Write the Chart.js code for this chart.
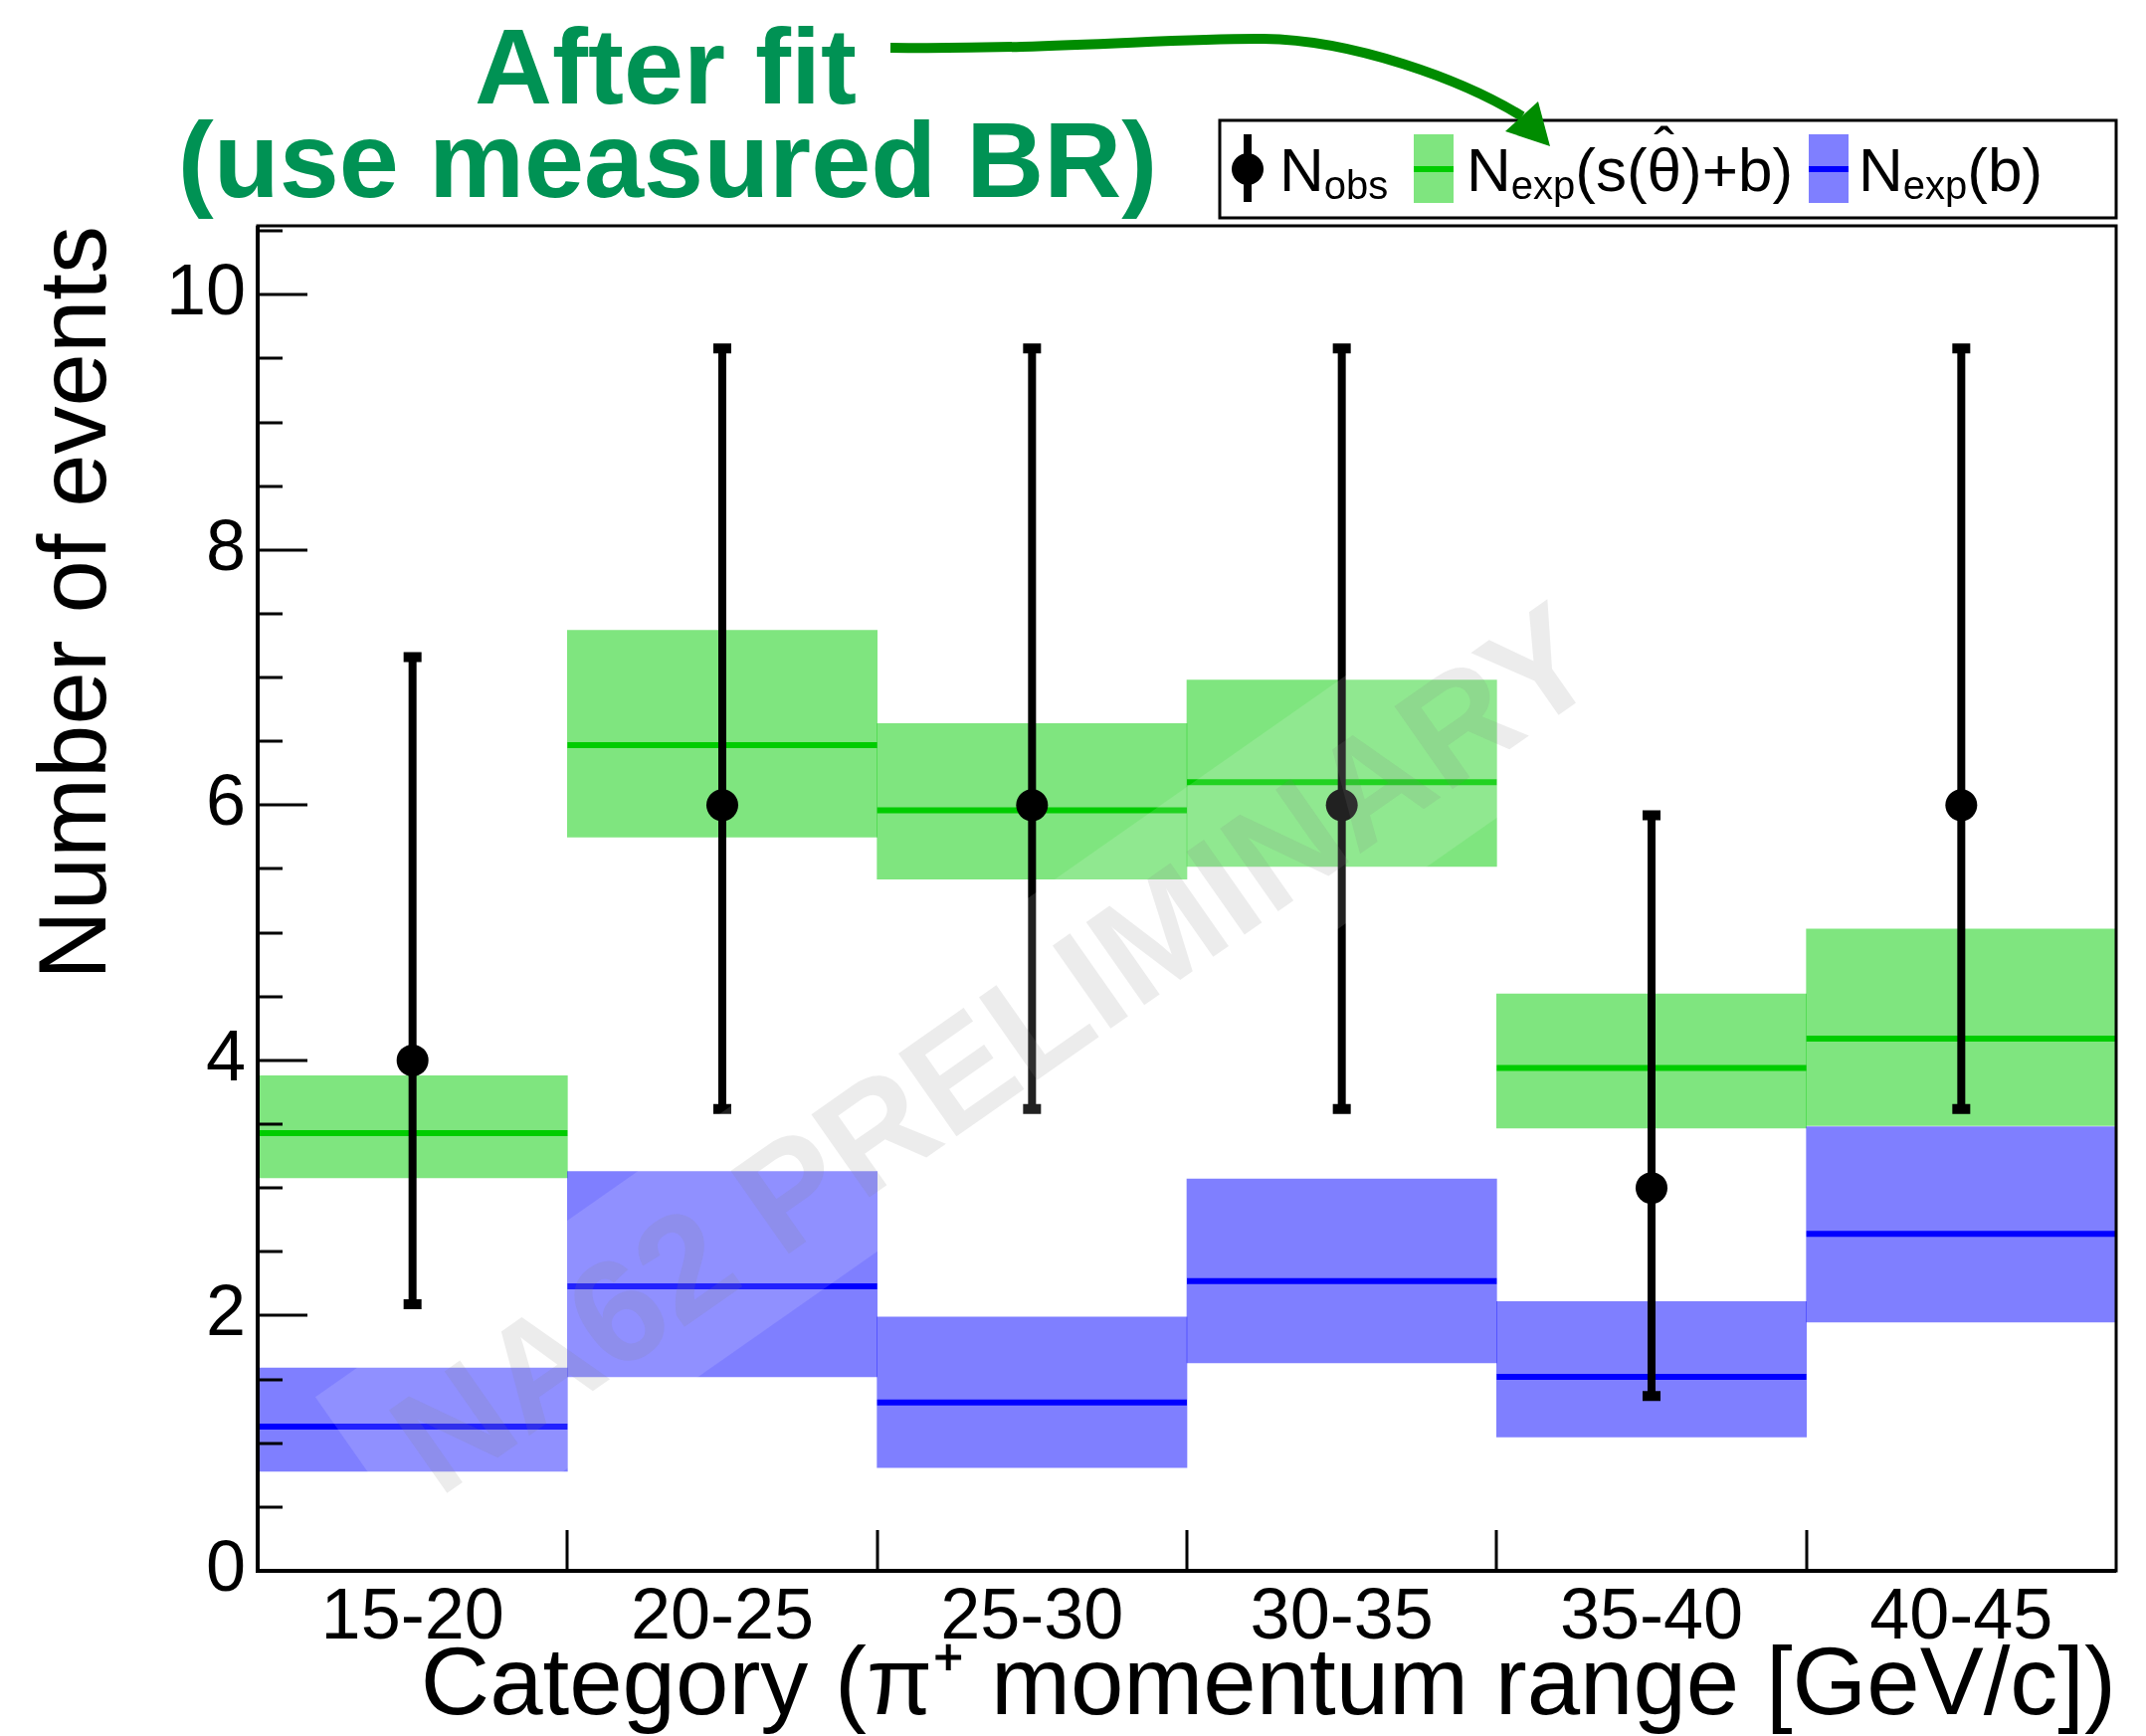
<!DOCTYPE html>
<html>
<head>
<meta charset="utf-8">
<script src="https://cdn.jsdelivr.net/npm/chart.js@4.4.0/dist/chart.umd.min.js"></script>
<style>
body { margin:0; background:#fff; }
#wrap { position:relative; width:2157px; height:1745px; font-family:"Liberation Sans", Arial, sans-serif; }
#chart { position:absolute; left:0; top:0; z-index:0; }
#legbox { position:absolute; left:0; top:0; z-index:1; }
#arrow { position:absolute; left:0; top:0; z-index:3; pointer-events:none; }
.note { position:absolute; color:#009254; font-weight:bold; font-size:108px; line-height:1; white-space:nowrap; transform:translateX(-50%); z-index:2; }
.leg { position:absolute; font-size:62px; line-height:1; white-space:nowrap; color:#000; z-index:2; }
.leg sub { font-size:40px; line-height:1; vertical-align:-8px; }
.hat { position:relative; }
.hat::before { content:'\02C6'; position:absolute; left:50%; transform:translateX(-50%); top:-0.28em; }
</style>
</head>
<body>
<div id="wrap">
  <canvas id="chart" width="2157" height="1745"></canvas>
  <svg id="legbox" width="2157" height="1745">
    <rect x="1226" y="121" width="901" height="98" fill="#fff" stroke="#000" stroke-width="3"/>
    <line x1="1254" y1="135" x2="1254" y2="203" stroke="#000" stroke-width="8"/>
    <circle cx="1254" cy="170" r="16" fill="#000"/>
    <rect x="1421" y="135" width="40" height="69" fill="rgba(0,204,0,0.5)"/>
    <line x1="1421" y1="170" x2="1461" y2="170" stroke="#00cc00" stroke-width="6"/>
    <rect x="1818" y="135" width="40" height="69" fill="rgba(0,0,255,0.5)"/>
    <line x1="1818" y1="170" x2="1858" y2="170" stroke="#0000ff" stroke-width="6"/>
  </svg>
  <div class="note" style="left:669px; top:13px;">After fit</div>
  <div class="note" style="left:671px; top:107px;">(use measured BR)</div>
  <div class="leg" style="left:1286px; top:140px;">N<sub>obs</sub></div>
  <div class="leg" style="left:1474px; top:140px;">N<sub>exp</sub>(s(<span class="hat">θ</span>)+b)</div>
  <div class="leg" style="left:1868px; top:140px;">N<sub>exp</sub>(b)</div>
  <svg id="arrow" width="2157" height="1745">
    <path d="M895,48 C1060,50 1180,38 1270,39 C1360,40 1470,80 1530,117" fill="none" stroke="#008c00" stroke-width="10"/>
    <polygon points="1558,147 1513,132 1546,102" fill="#008c00"/>
  </svg>
</div>
<script>
// categories (pi+ momentum range)
var categories = ['15-20', '20-25', '25-30', '30-35', '35-40', '40-45'];
// observed events with asymmetric errors
var nObs = [4, 6, 6, 6, 3, 6];
var nObsLow = [2.09, 3.62, 3.62, 3.62, 1.37, 3.62];
var nObsHigh = [7.16, 9.58, 9.58, 9.58, 5.92, 9.58];
// expected s(theta)+b : central and band
var sbCentral = [3.43, 6.47, 5.96, 6.18, 3.94, 4.17];
var sbLow = [3.08, 5.75, 5.42, 5.52, 3.47, 3.49];
var sbHigh = [3.88, 7.37, 6.64, 6.98, 4.52, 5.03];
// expected background : central and band
var bCentral = [1.13, 2.23, 1.32, 2.27, 1.52, 2.64];
var bLow = [0.78, 1.52, 0.81, 1.63, 1.05, 1.95];
var bHigh = [1.59, 3.13, 1.99, 3.07, 2.11, 3.48];
// y axis
var yTickVals = [0, 2, 4, 6, 8, 10];
var yMax = 10.54;

var FONT = '"Liberation Sans", Arial, sans-serif';

function bandData(lo, hi) {
	return lo.map(function(v, i) { return [v, hi[i]]; });
}

// central line of each band, drawn right after its band
var centralLines = {
	id: 'centralLines',
	afterDatasetDraw: function(chart, args) {
		var ds = chart.data.datasets[args.index];
		if (!ds.central) return;
		var ctx = chart.ctx, y = chart.scales.y;
		ctx.save();
		ctx.strokeStyle = ds.lineColor;
		ctx.lineWidth = 6;
		args.meta.data.forEach(function(bar, i) {
			var py = y.getPixelForValue(ds.central[i]);
			ctx.beginPath();
			ctx.moveTo(bar.x - bar.width / 2, py);
			ctx.lineTo(bar.x + bar.width / 2, py);
			ctx.stroke();
		});
		ctx.restore();
	}
};

// vertical error bars under the markers
var errorBars = {
	id: 'errorBars',
	beforeDatasetDraw: function(chart, args) {
		var ds = chart.data.datasets[args.index];
		if (!ds.errLow) return;
		var ctx = chart.ctx, y = chart.scales.y;
		ctx.save();
		ctx.strokeStyle = '#000';
		args.meta.data.forEach(function(pt, i) {
			var y1 = y.getPixelForValue(ds.errLow[i]);
			var y2 = y.getPixelForValue(ds.errHigh[i]);
			ctx.lineWidth = 8;
			ctx.beginPath();
			ctx.moveTo(pt.x, y1);
			ctx.lineTo(pt.x, y2);
			ctx.stroke();
			ctx.lineWidth = 10;
			ctx.beginPath();
			ctx.moveTo(pt.x - 9, y1); ctx.lineTo(pt.x + 9, y1);
			ctx.moveTo(pt.x - 9, y2); ctx.lineTo(pt.x + 9, y2);
			ctx.stroke();
		});
		ctx.restore();
	}
};

// NA62 PRELIMINARY stamp
var watermark = {
	id: 'watermark',
	afterDatasetsDraw: function(chart) {
		var ctx = chart.ctx, a = chart.chartArea;
		ctx.save();
		ctx.beginPath();
		ctx.rect(a.left, a.top, a.right - a.left, a.bottom - a.top);
		ctx.clip();
		ctx.translate(998, 1052);
		ctx.rotate(-35 * Math.PI / 180);
		ctx.fillStyle = 'rgba(255,255,255,0.13)';
		ctx.fillRect(-760, -102, 1520, 204);
		ctx.font = 'bold 148px ' + FONT;
		ctx.textAlign = 'center';
		ctx.textBaseline = 'alphabetic';
		ctx.fillStyle = 'rgba(128,128,128,0.15)';
		ctx.fillText('NA62 PRELIMINARY', 0, 53);
		ctx.restore();
	}
};

// frame and tick marks drawn ROOT style (inside the frame)
var frame = {
	id: 'frame',
	afterDraw: function(chart) {
		var ctx = chart.ctx, a = chart.chartArea;
		var x = chart.scales.x, y = chart.scales.y;
		ctx.save();
		ctx.strokeStyle = '#000';
		ctx.lineWidth = 3;
		ctx.strokeRect(a.left, a.top, a.right - a.left, a.bottom - a.top);
		ctx.lineWidth = 4;
		ctx.beginPath();
		ctx.moveTo(a.left, a.top); ctx.lineTo(a.left, a.bottom); ctx.lineTo(a.right, a.bottom);
		ctx.stroke();
		ctx.lineWidth = 3;
		ctx.beginPath();
		for (var v = 0; v <= yMax; v += 0.5) {
			var py = Math.round(y.getPixelForValue(v));
			var len = (v % 2 === 0) ? 50 : 25;
			ctx.moveTo(a.left, py);
			ctx.lineTo(a.left + len, py);
		}
		for (var i = 1; i < categories.length; i++) {
			var px = Math.round(x.getPixelForValue(i - 0.5));
			ctx.moveTo(px, a.bottom);
			ctx.lineTo(px, a.bottom - 41);
		}
		ctx.stroke();
		ctx.restore();
	}
};

var ctx = document.getElementById('chart').getContext('2d');
var config = {
	data: {
		labels: categories,
		datasets: [
			{
				type: 'line',
				label: 'Nobs',
				data: nObs,
				errLow: nObsLow,
				errHigh: nObsHigh,
				showLine: false,
				pointRadius: 16,
				pointBackgroundColor: '#000',
				pointBorderWidth: 0,
				order: 0
			},
			{
				type: 'bar',
				label: 'Nexp(b)',
				data: bandData(bLow, bHigh),
				central: bCentral,
				lineColor: '#0000ff',
				backgroundColor: 'rgba(0,0,255,0.5)',
				borderWidth: 0,
				barPercentage: 1,
				categoryPercentage: 1,
				grouped: false,
				order: 1
			},
			{
				type: 'bar',
				label: 'Nexp(s+b)',
				data: bandData(sbLow, sbHigh),
				central: sbCentral,
				lineColor: '#00cc00',
				backgroundColor: 'rgba(0,204,0,0.5)',
				borderWidth: 0,
				barPercentage: 1,
				categoryPercentage: 1,
				grouped: false,
				order: 2
			}
		]
	},
	options: {
		responsive: false,
		devicePixelRatio: 1,
		animation: false,
		layout: { padding: { left: 0, top: 227, right: 30, bottom: 0 } },
		plugins: {
			legend: { display: false },
			tooltip: { enabled: false }
		},
		scales: {
			x: {
				type: 'category',
				offset: true,
				grid: { display: false, drawTicks: false },
				border: { display: false },
				ticks: { color: '#000', font: { family: FONT, size: 72 }, padding: 5, maxRotation: 0 },
				title: {
					display: true,
					text: 'Category (π⁺ momentum range [GeV/c])',
					align: 'end',
					color: '#000',
					font: { family: FONT, size: 96, lineHeight: 1.0 },
					padding: { top: 0, bottom: 0 }
				},
				afterFit: function(scale) { scale.height = 166; }
			},
			y: {
				min: 0,
				max: yMax,
				grid: { display: false, drawTicks: false },
				border: { display: false },
				ticks: { color: '#000', font: { family: FONT, size: 72 }, padding: 12 },
				afterBuildTicks: function(scale) {
					scale.ticks = yTickVals.map(function(v) { return { value: v }; });
				},
				title: {
					display: true,
					text: 'Number of events',
					align: 'end',
					color: '#000',
					font: { family: FONT, size: 96 },
					padding: { top: 22, bottom: 0 }
				},
				afterFit: function(scale) { scale.width = 259; }
			}
		}
	},
	plugins: [centralLines, errorBars, watermark, frame]
};
var chart = new Chart(ctx, config);
</script>
</body>
</html>
